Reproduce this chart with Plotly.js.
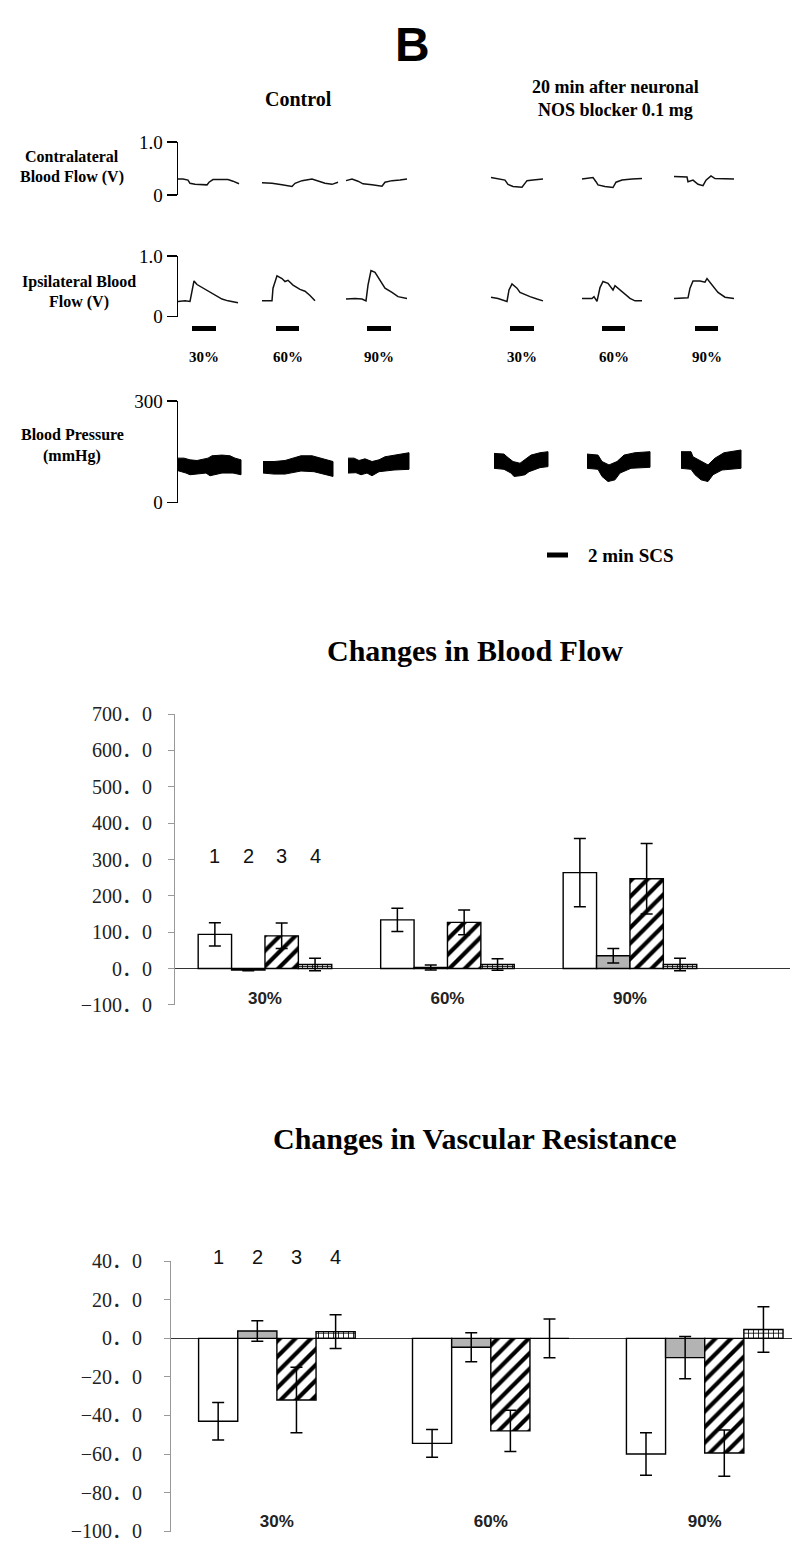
<!DOCTYPE html>
<html>
<head>
<meta charset="utf-8">
<script src="https://cdn.plot.ly/plotly-3.0.1.min.js"></script>
<style>
  html, body { margin: 0; padding: 0; background: #fff; }
  #fig { width: 800px; height: 1551px; }
</style>
</head>
<body>
<div id="fig"></div>
<script>
// recording traces, time in chart units from the start of the record
var segmentLabels = ['30%', '60%', '90%', '30%', '60%', '90%'];
var stimStart = [14, 98, 189, 332, 424, 517];
var stimEnd = [38, 121, 213, 356, 447, 540];

var contraTime = [
  [0, 5, 10, 12, 17, 24, 29, 31, 35, 44, 50, 55, 61],
  [84, 94, 104, 114, 117, 124, 134, 140, 147, 154, 160],
  [168, 174, 180, 185, 194, 204, 207, 214, 222, 229],
  [313, 320, 327, 330, 335, 344, 346, 349, 355, 365],
  [404, 410, 415, 418, 420, 427, 435, 438, 444, 454, 464],
  [496, 504, 509, 510, 515, 520, 525, 528, 533, 537, 547, 556]
];
var contraFlow = [
  [0.30, 0.30, 0.28, 0.22, 0.20, 0.20, 0.19, 0.24, 0.29, 0.29, 0.29, 0.26, 0.21],
  [0.23, 0.22, 0.19, 0.16, 0.22, 0.27, 0.30, 0.26, 0.22, 0.20, 0.24],
  [0.27, 0.30, 0.26, 0.21, 0.19, 0.165, 0.24, 0.27, 0.28, 0.30],
  [0.33, 0.31, 0.28, 0.20, 0.16, 0.145, 0.20, 0.27, 0.28, 0.30],
  [0.30, 0.31, 0.33, 0.25, 0.19, 0.16, 0.14, 0.24, 0.28, 0.30, 0.31],
  [0.35, 0.34, 0.34, 0.25, 0.28, 0.20, 0.175, 0.28, 0.36, 0.31, 0.30, 0.30]
];

var ipsiTime = [
  [0, 7, 12, 14, 16, 19, 24, 30, 37, 44, 50, 60],
  [84, 94, 95, 99, 104, 107, 110, 115, 122, 127, 132, 137],
  [168, 177, 184, 188, 190, 193, 197, 202, 207, 214, 220, 229],
  [313, 320, 329, 331, 334, 339, 342, 346, 352, 359, 365],
  [404, 414, 416, 419, 422, 425, 430, 435, 437, 440, 445, 452, 457, 464],
  [496, 505, 510, 512, 515, 522, 527, 529, 534, 540, 547, 556]
];
var ipsiFlow = [
  [0.25, 0.26, 0.25, 0.41, 0.59, 0.53, 0.48, 0.42, 0.35, 0.29, 0.26, 0.23],
  [0.26, 0.26, 0.47, 0.675, 0.63, 0.58, 0.60, 0.52, 0.45, 0.42, 0.35, 0.26],
  [0.29, 0.30, 0.29, 0.26, 0.52, 0.76, 0.73, 0.60, 0.47, 0.40, 0.33, 0.30],
  [0.32, 0.30, 0.25, 0.44, 0.54, 0.47, 0.40, 0.37, 0.33, 0.29, 0.26],
  [0.30, 0.30, 0.33, 0.25, 0.48, 0.58, 0.55, 0.44, 0.51, 0.47, 0.39, 0.30, 0.26, 0.26],
  [0.30, 0.30, 0.31, 0.47, 0.59, 0.59, 0.57, 0.63, 0.52, 0.40, 0.32, 0.30]
];

// blood pressure envelope (systolic / diastolic), mmHg
var bpSysTime = [
  [0, 6, 12, 19, 30, 34, 44, 52, 57, 63],
  [85, 96, 107, 114, 123, 134, 143, 155],
  [170, 176, 181, 187, 194, 201, 207, 216, 231],
  [316, 326, 329, 335, 342, 347, 353, 362, 370],
  [409, 420, 424, 431, 439, 446, 457, 472],
  [503, 513, 515, 523, 530, 537, 546, 563]
];
var bpSys = [
  [131, 131, 126, 124, 131, 138, 140, 138, 131, 126],
  [121, 121, 124, 131, 138, 138, 131, 121],
  [131, 131, 124, 129, 121, 126, 135, 140, 147],
  [145, 143, 135, 121, 116, 126, 140, 147, 150],
  [143, 140, 121, 111, 121, 140, 147, 150],
  [150, 150, 135, 121, 111, 131, 147, 155]
];
var bpDiaTime = [
  [0, 8, 12, 19, 28, 32, 44, 55, 63],
  [85, 96, 107, 114, 123, 136, 147, 155],
  [170, 178, 183, 189, 194, 201, 216, 231],
  [316, 326, 333, 336, 342, 347, 351, 362, 370],
  [409, 420, 424, 430, 437, 442, 453, 472],
  [503, 513, 517, 523, 530, 535, 544, 563]
];
var bpDia = [
  [94, 87, 82, 84, 87, 79, 87, 87, 82],
  [87, 84, 84, 88, 93, 91, 82, 77],
  [87, 88, 82, 87, 79, 91, 96, 98],
  [101, 98, 87, 77, 79, 82, 91, 103, 106],
  [101, 98, 77, 62, 67, 87, 101, 104],
  [101, 98, 82, 67, 62, 82, 96, 101]
];

// bar charts
var categories = ['30%', '60%', '90%'];
var seriesNames = ['1', '2', '3', '4'];

var flow1 = [94, 134, 264];
var flow2 = [-4, 3, 35];
var flow3 = [90, 127, 247];
var flow4 = [11, 11, 11];
var flowErr1 = [32, 32, 94];
var flowErr2 = [2, 7, 20];
var flowErr3 = [35, 34, 97];
var flowErr4 = [17, 16, 17];

var res1 = [-43, -54.5, -60];
var res2 = [3.8, -4.6, -10];
var res3 = [-32, -48, -59.5];
var res4 = [3.5, 0, 4.6];
var resErr1 = [9.7, 7.2, 11];
var resErr2 = [5.3, 7.5, 11];
var resErr3 = [17, 10.7, 12];
var resErr4 = [8.7, 10, 11.8];

var H = 1551, W = 800;
function py(px) { return 1 - px / H; }

var serif = 'Liberation Serif, Times New Roman, serif';
var sans = 'Liberation Sans, Arial, sans-serif';
var BARGAP = 0.268;

var data = [];

contraTime.forEach(function (t, i) {
  data.push({ x: t, y: contraFlow[i], type: 'scatter', mode: 'lines',
    line: { color: '#111', width: 1.5 }, xaxis: 'x', yaxis: 'y' });
});
ipsiTime.forEach(function (t, i) {
  data.push({ x: t, y: ipsiFlow[i], type: 'scatter', mode: 'lines',
    line: { color: '#111', width: 1.5 }, xaxis: 'x', yaxis: 'y2' });
});
bpSysTime.forEach(function (t, i) {
  var xs = t.concat(bpDiaTime[i].slice().reverse());
  var ys = bpSys[i].concat(bpDia[i].slice().reverse());
  data.push({ x: xs, y: ys, type: 'scatter', mode: 'lines', fill: 'toself',
    fillcolor: '#000', line: { color: '#000', width: 1 }, xaxis: 'x', yaxis: 'y3' });
});

// stimulation bars
var sx = [], sy = [];
stimStart.forEach(function (s, i) { sx.push(s, stimEnd[i], null); sy.push(0, 0, null); });
data.push({ x: sx, y: sy, type: 'scatter', mode: 'lines',
  line: { color: '#000', width: 5 }, xaxis: 'x', yaxis: 'y6' });

var styles = [
  { color: '#fff' },
  { color: '#b3b3b3' },
  { color: '#fff', pattern: { shape: '/', fgcolor: '#000', bgcolor: '#fff', size: 11, solidity: 0.38 } },
  { color: '#fff', pattern: { shape: '+', fgcolor: '#000', bgcolor: '#fff', size: 5, solidity: 0.3 } }
];

function addBars(vals, errs, xa, ya) {
  vals.forEach(function (v, k) {
    var m = Object.assign({ line: { color: '#000', width: 1.4 } }, styles[k]);
    data.push({
      type: 'bar', x: categories, y: v, name: seriesNames[k], marker: m,
      error_y: { type: 'data', array: errs[k], visible: true, color: '#000', thickness: 1.5, width: 6 },
      xaxis: xa, yaxis: ya
    });
  });
}
addBars([flow1, flow2, flow3, flow4], [flowErr1, flowErr2, flowErr3, flowErr4], 'x4', 'y4');
addBars([res1, res2, res3, res4], [resErr1, resErr2, resErr3, resErr4], 'x5', 'y5');

function traceAxis(domain, range, vals, text) {
  return {
    domain: domain, range: range, anchor: 'x',
    showline: true, linecolor: '#000', linewidth: 1.5,
    ticks: 'outside', ticklen: 10, tickwidth: 1.5, tickcolor: '#000',
    tickvals: vals, ticktext: text,
    tickfont: { family: serif, size: 19, color: '#000' },
    showgrid: false, zeroline: false
  };
}

function barYAxis(domain, range, dtick, xa, standoff) {
  var vals = [];
  for (var v = range[0]; v <= range[1] + 1e-9; v += dtick) vals.push(v);
  return {
    domain: domain, range: [range[0] - 0.3, range[1] + 0.3], anchor: xa,
    tickvals: vals, tickformat: '.1f',
    showline: true, linecolor: '#999', linewidth: 1,
    ticks: 'outside', ticklen: 6, tickcolor: '#999',
    ticklabelstandoff: standoff,
    tickfont: { family: serif + ', Noto Sans CJK SC', size: 20, color: '#222' },
    showgrid: false, zeroline: true, zerolinecolor: '#333', zerolinewidth: 1.3
  };
}

function barXAxis(domain, range, posPx) {
  return {
    domain: domain, range: range, type: 'category', anchor: 'free', position: py(posPx),
    showline: false, ticks: '', showgrid: false, zeroline: false,
    tickfont: { family: sans, size: 17, color: '#222', weight: 'bold' }
  };
}

var annotations = [];
function note(text, x, y, size, opts) {
  var a = Object.assign({
    text: text, x: x, y: y, xref: 'paper', yref: 'paper', showarrow: false,
    xanchor: 'center', yanchor: 'middle',
    font: { family: serif, size: size, color: '#000', weight: 'bold' }
  }, opts || {});
  annotations.push(a);
}

note('B', 412 / W, py(45), 48, { font: { family: sans, size: 48, color: '#000', weight: 'bold' } });
note('Control', 298 / W, py(99), 20);
note('20 min after neuronal<br>NOS blocker 0.1 mg', 615 / W, py(98), 18);
note('Contralateral', 72 / W, py(156), 16);
note('Blood Flow (V)', 72 / W, py(177), 16);
note('Ipsilateral Blood', 79 / W, py(282), 16);
note('Flow (V)', 79 / W, py(302), 16);
note('Blood Pressure', 72 / W, py(434), 16);
note('(mmHg)', 72 / W, py(456), 16);
note('2 min SCS', 586 / W, py(555), 19, { xanchor: 'left' });
note('Changes in Blood Flow', 475 / W, py(650), 30);
note('Changes in Vascular Resistance', 475 / W, py(1138), 30);

segmentLabels.forEach(function (lab, i) {
  note(lab, (stimStart[i] + stimEnd[i]) / 2, py(357), 15, { xref: 'x' });
});

var barW = (1 - BARGAP) / seriesNames.length;
seriesNames.forEach(function (s, k) {
  var off = (k - (seriesNames.length - 1) / 2) * barW;
  note(s, off, py(856), 20, { xref: 'x4', font: { family: sans, size: 20, color: '#111' } });
  note(s, off, py(1256.5), 20, { xref: 'x5', font: { family: sans, size: 20, color: '#111' } });
});

var layout = {
  width: W, height: H,
  margin: { l: 0, r: 0, t: 0, b: 0 },
  paper_bgcolor: '#fff', plot_bgcolor: 'rgba(0,0,0,0)',
  showlegend: false,
  separators: '\uFF0E,',
  barmode: 'group', bargap: BARGAP, bargroupgap: 0,
  xaxis: { domain: [178 / W, 743 / W], range: [0, 565], visible: false },
  yaxis: traceAxis([py(195), py(142)], [-0.002, 1.002], [0, 1], ['0', '1.0']),
  yaxis2: traceAxis([py(316.7), py(256)], [-0.002, 1.002], [0, 1], ['0', '1.0']),
  yaxis3: traceAxis([py(502.7), py(400.7)], [-0.5, 300.5], [0, 300], ['0', '300']),
  yaxis6: { domain: [py(336), py(321)], range: [-1, 1], anchor: 'x', visible: false },
  xaxis4: barXAxis([175 / W, 790 / W], [-0.493, 2.877], 986),
  yaxis4: barYAxis([py(1005), py(714)], [-100, 700], 100, 'x4', 12),
  xaxis5: barXAxis([171 / W, 792 / W], [-0.495, 2.408], 1509),
  yaxis5: barYAxis([py(1531.7), py(1260.7)], [-100, 40], 20, 'x5', 18),
  shapes: [
    { type: 'line', xref: 'paper', yref: 'paper', x0: 547 / W, x1: 568 / W, y0: py(555), y1: py(555),
      line: { color: '#000', width: 5 } }
  ],
  annotations: annotations
};

Plotly.newPlot('fig', data, layout, { staticPlot: true, displayModeBar: false });
</script>
</body>
</html>
